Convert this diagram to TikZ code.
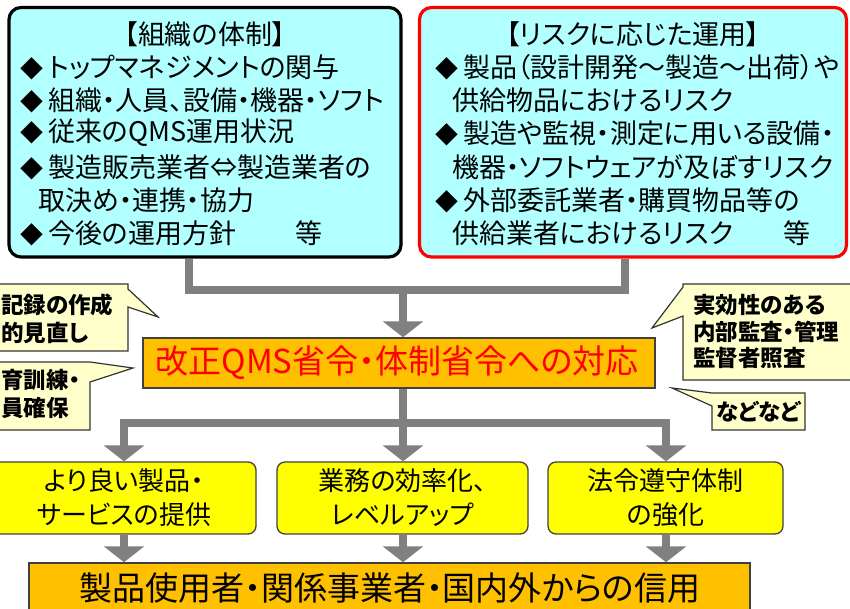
\documentclass[tikz,border=0pt]{standalone}
\usepackage{fontspec}
\setmainfont{Noto Sans CJK JP}[RawFeature={+palt}]
\usetikzlibrary{arrows.meta}
\definecolor{cyanfill}{HTML}{B2FFFF}
\definecolor{notefill}{HTML}{FFFFCC}
\definecolor{qmsfill}{HTML}{FFC000}
\definecolor{yelfill}{HTML}{FFFF00}
\definecolor{conngray}{HTML}{808080}
\definecolor{boxedge}{HTML}{404040}
\newcommand{\dia}{\makebox[28pt][l]{\scalebox{0.85}{◆}}}
\begin{document}
\begin{tikzpicture}[x=1pt,y=-1pt,
  topbox/.style={draw, line width=3.2pt, fill=cyanfill, rounded corners=12pt, inner sep=0pt},
  boxtext/.style={inner sep=0pt, font=\fontsize{27}{33}\selectfont},
  line/.style={boxtext, anchor=west},
  qmsbox/.style={draw=boxedge, line width=1.5pt, fill=qmsfill, inner sep=0pt},
  yelbox/.style={draw=boxedge, line width=1.3pt, fill=yelfill, rounded corners=8pt, inner sep=0pt,
     align=center, font=\fontsize{26}{34}\selectfont},
  callout/.style={draw=black!80, line width=1.2pt, fill=notefill, line join=miter},
  notetext/.style={inner sep=0pt, anchor=west, font=\fontsize{22.5}{27}\selectfont\bfseries},
  conn/.style={draw=conngray, line width=8pt},
  arr/.style={-{Triangle[width=40pt,length=16pt]}, color=conngray}
]
\useasboundingbox (0,0) rectangle (850,608);
\clip (0,0) rectangle (850,608);

% top boxes
\node[topbox, minimum width=392pt, minimum height=249.5pt] (org) at (205,132.25) {};
\node[topbox, draw=red, minimum width=427pt, minimum height=249.5pt] (risk) at (633,132.25) {};

\node[boxtext] (orgt) at (205,34) {【組織の体制】};
\node[line] (o1) at (20,67) {\dia トップマネジメントの関与};
\node[line] (o2) at (20,100) {\dia 組織・人員、設備・機器・ソフト};
\node[line] (o3) at (20,133) {\dia 従来のQMS運用状況};
\node[line] (o4) at (20,167) {\dia 製造販売業者⇔製造業者の};
\node[line] (o5) at (38,200) {取決め・連携・協力};
\node[line] (o6) at (20,233) {\makebox[302pt][l]{\dia 今後の運用方針\hfill 等}};

\node[boxtext] (riskt) at (633,34) {【リスクに応じた運用】};
\node[line] (r1) at (435,67) {\dia 製品（設計開発～製造～出荷）や};
\node[line] (r2) at (452,100) {供給物品におけるリスク};
\node[line] (r3) at (435,133) {\dia 製造や監視・測定に用いる設備・};
\node[line] (r4) at (452,167) {機器・ソフトウェアが及ぼすリスク};
\node[line] (r5) at (435,200) {\dia 外部委託業者・購買物品等の};
\node[line] (r6) at (452,233) {\makebox[358pt][l]{供給業者におけるリスク\hfill 等}};

% central box
\node[qmsbox, minimum width=512pt, minimum height=50pt] (qms) at (399,363) {};
\node[inner sep=0pt, text=red, font=\fontsize{33}{36}\selectfont] (qmst) at (397,363) {改正QMS省令・体制省令への対応};

% connectors top
\coordinate (jl) at (189,289.5);
\coordinate (jr) at (625,289.5);
\coordinate (jm) at (403,289.5);
\draw[conn, line join=miter] (org.south -| jl) -- (jl) -- (jr) -- (risk.south -| jr);
\draw[conn, arr] (jm) -- (qms.north -| jm);

% yellow boxes
\node[yelbox, minimum width=264pt, minimum height=72pt] (y1) at (124,498) {より良い製品・\\サービスの提供};
\node[yelbox, minimum width=251pt, minimum height=72pt] (y2) at (402.5,498) {業務の効率化、\\レベルアップ};
\node[yelbox, minimum width=235pt, minimum height=72pt] (y3) at (665.5,498) {法令遵守体制\\の強化};

% connectors lower
\coordinate (km) at (403,423);
\coordinate (kl) at (124,423);
\coordinate (kr) at (666,423);
\draw[conn] (qms.south -| km) -- (km);
\draw[conn, line cap=rect] (kl) -- (kr);
\draw[conn, arr] (kl) -- (y1.north -| kl);
\draw[conn, arr] (km) -- (y2.north -| km);
\draw[conn, arr] (kr) -- (y3.north -| kr);

% bottom box
\node[qmsbox, minimum width=721pt, minimum height=80pt] (trust) at (389.5,603) {};
\node[inner sep=0pt, font=\fontsize{33}{36}\selectfont] (trustt) at (390,588) {製品使用者・関係事業者・国内外からの信用};
\draw[conn, arr] (y1.south -| kl) -- (trust.north -| kl);
\draw[conn, arr] (y2.south -| km) -- (trust.north -| km);
\draw[conn, arr] (y3.south -| kr) -- (trust.north -| kr);

% callouts
\path[callout] (-20,284) -- (128,284) -- (128,289) -- (158,317) -- (128,307) -- (128,351) -- (-20,351) -- cycle;
\node[notetext] (ca1) at (1,305) {記録の作成};
\node[notetext] (ca2) at (1,333) {的見直し};

\path[callout] (-20,362) -- (90,362) -- (133,368) -- (90,382) -- (90,430) -- (-20,430) -- cycle;
\node[notetext] (cb1) at (1,380) {育訓練・};
\node[notetext] (cb2) at (1,408) {員確保};

\path[callout] (683,284) -- (870,284) -- (870,380) -- (683,380) -- (683,316) -- (652,328) -- (683,287) -- cycle;
\node[notetext] (cc1) at (693,305) {実効性のある};
\node[notetext] (cc2) at (693,332) {内部監査・管理};
\node[notetext] (cc3) at (693,358) {監督者照査};

\path[callout] (712,393) -- (805,393) -- (805,430) -- (712,430) -- (712,406) -- (672,388) -- cycle;
\node[notetext, anchor=center] (cd) at (758.5,412) {などなど};
\end{tikzpicture}
\end{document}
